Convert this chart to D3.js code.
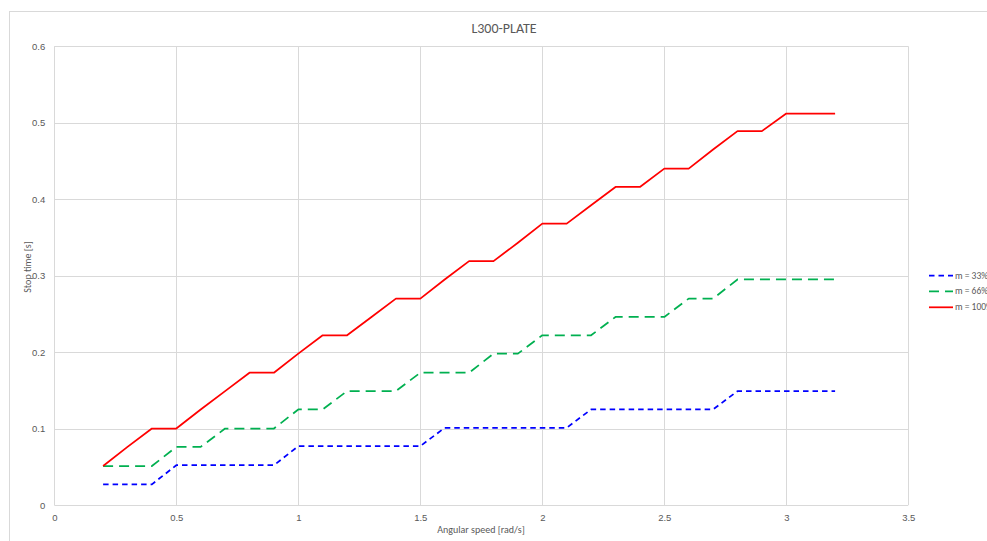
<!DOCTYPE html>
<html>
<head>
<meta charset="utf-8">
<script src="https://cdn.jsdelivr.net/npm/d3@7"></script>
<style>
  html, body { margin: 0; padding: 0; background: #fff; }
  svg { display: block; font-family: Calibri, Carlito, "Liberation Sans", "Open Sans", sans-serif; }
</style>
</head>
<body>
<svg id="chart" width="987" height="541"></svg>
<script>
const title = "L300-PLATE";
const xTitle = "Angular speed [rad/s]";
const yTitle = "Stop time [s]";
const xValues = [0.2,0.3,0.4,0.5,0.6,0.7,0.8,0.9,1.0,1.1,1.2,1.3,1.4,1.5,1.6,1.7,1.8,1.9,2.0,2.1,2.2,2.3,2.4,2.5,2.6,2.7,2.8,2.9,3.0,3.1,3.2];
const m33 = [0.027,0.027,0.027,0.052,0.052,0.052,0.052,0.052,0.077,0.077,0.077,0.077,0.077,0.077,0.101,0.101,0.101,0.101,0.101,0.101,0.125,0.125,0.125,0.125,0.125,0.125,0.149,0.149,0.149,0.149,0.149];
const m66 = [0.051,0.051,0.051,0.076,0.076,0.100,0.100,0.100,0.125,0.125,0.149,0.149,0.149,0.173,0.173,0.173,0.198,0.198,0.222,0.222,0.222,0.246,0.246,0.246,0.270,0.270,0.295,0.295,0.295,0.295,0.295];
const m100 = [0.051,0.076,0.100,0.100,0.125,0.149,0.173,0.173,0.198,0.222,0.222,0.246,0.270,0.270,0.295,0.319,0.319,0.343,0.368,0.368,0.392,0.416,0.416,0.440,0.440,0.465,0.489,0.489,0.512,0.512,0.512];
const seriesNames = ["m = 33%", "m = 66%", "m = 100%"];
const seriesColors = ["#0000ff", "#00b050", "#ff0000"];
const seriesDash = ["5.5,4", "10,6", null];
const xTicks = [0,0.5,1,1.5,2,2.5,3,3.5];
const yTicks = [0,0.1,0.2,0.3,0.4,0.5,0.6];

const series = [m33, m66, m100].map((vals, i) => ({
  name: seriesNames[i], color: seriesColors[i], dash: seriesDash[i],
  points: vals.map((v, j) => ({x: xValues[j], y: v}))
}));

const svg = d3.select("#chart");
const pLeft = 54.3, pRight = 908.3, pTop = 46.3, pBottom = 505;

// chart border (extends past viewport on right/bottom)
svg.append("rect").attr("x", 9.5).attr("y", 11.5).attr("width", 1000).attr("height", 600)
  .attr("fill", "#fff").attr("stroke", "#d9d9d9").attr("stroke-width", 1);

const x = d3.scaleLinear().domain([0, 3.5]).range([pLeft, pRight]);
const y = d3.scaleLinear().domain([0, 0.6]).range([pBottom, pTop]);

// gridlines
const g = svg.append("g");
g.selectAll(".vg").data(xTicks).join("line")
  .attr("x1", d => Math.round(x(d)) + 0.5).attr("x2", d => Math.round(x(d)) + 0.5)
  .attr("y1", pTop).attr("y2", pBottom)
  .attr("stroke", "#d9d9d9").attr("stroke-width", 1);
g.selectAll(".hg").data(yTicks).join("line")
  .attr("x1", pLeft).attr("x2", pRight)
  .attr("y1", d => Math.round(y(d)) + 0.5).attr("y2", d => Math.round(y(d)) + 0.5)
  .attr("stroke", "#d9d9d9").attr("stroke-width", 1);

// axes labels via d3 axes
const xAxis = d3.axisBottom(x).tickValues(xTicks).tickSize(0).tickPadding(9).tickFormat(d3.format("~g"));
const xa = svg.append("g").attr("transform", `translate(0,${pBottom})`).call(xAxis);
xa.select(".domain").remove();
xa.selectAll("text").attr("fill", "#595959").style("font-size", "9.5px");

const yAxis = d3.axisLeft(y).tickValues(yTicks).tickSize(0).tickPadding(9).tickFormat(d3.format("~g"));
const ya = svg.append("g").attr("transform", `translate(${pLeft},0)`).call(yAxis);
ya.select(".domain").remove();
ya.selectAll("text").attr("fill", "#595959").style("font-size", "9.5px");

// lines
const line = d3.line().x(d => x(d.x)).y(d => y(d.y));
series.forEach(s => {
  svg.append("path").datum(s.points)
    .attr("d", line).attr("fill", "none")
    .attr("stroke", s.color).attr("stroke-width", 1.75)
    .attr("stroke-dasharray", s.dash).attr("stroke-linejoin", "round");
});

// title
svg.append("text").attr("x", 504).attr("y", 33).attr("text-anchor", "middle")
  .attr("fill", "#595959").style("font-size", "14px").text(title);
svg.append("text").attr("x", 481).attr("y", 533).attr("text-anchor", "middle")
  .attr("fill", "#595959").style("font-size", "10px").text(xTitle);
svg.append("text").attr("transform", "translate(31,267) rotate(-90)").attr("text-anchor", "middle")
  .attr("fill", "#595959").style("font-size", "10px").text(yTitle);

// legend
const lg = svg.append("g");
const ly = [275.7, 291.3, 307.3];
series.forEach((s, i) => {
  lg.append("line").attr("x1", 929).attr("x2", 953).attr("y1", ly[i]).attr("y2", ly[i])
    .attr("stroke", s.color).attr("stroke-width", 1.75).attr("stroke-dasharray", s.dash);
  lg.append("text").attr("x", 955).attr("y", ly[i] + 3).attr("fill", "#595959")
    .style("font-size", "9.5px").text(s.name);
});
</script>
</body>
</html>
